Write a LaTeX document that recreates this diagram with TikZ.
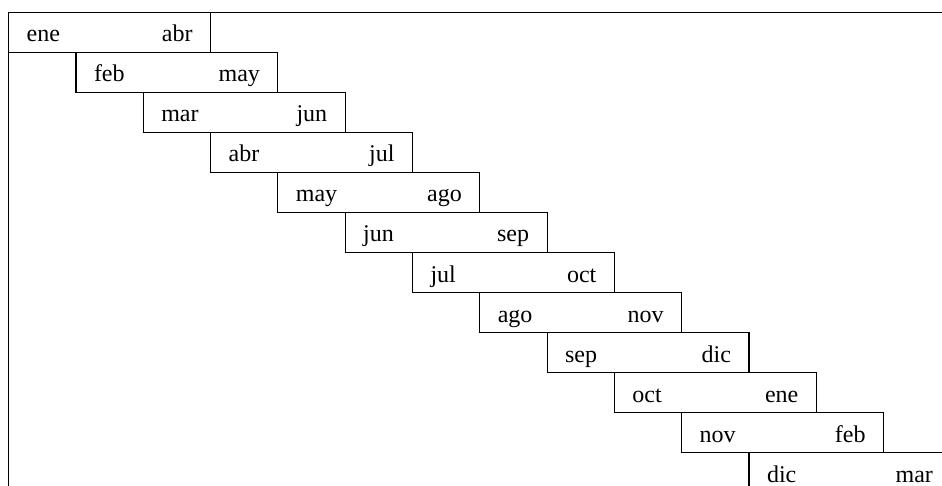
\documentclass[tikz,border=0pt]{standalone}
\usepackage{fontspec}
\setmainfont{Liberation Serif}
\usetikzlibrary{positioning}
\begin{document}
\begin{tikzpicture}[x=1pt, y=1pt, line width=0.55pt, node distance=0pt and -67.3pt,
	every node/.style={rectangle, draw, outer sep=0pt, inner xsep=9pt, inner ysep=0pt, text width=82.95pt, text height=14.725pt, text depth=5.3pt, font=\fontsize{12}{14}\selectfont},
	span/.style={below right=of #1}]
	\useasboundingbox (0,0) rectangle (471,-243);
	\clip (0,0) rectangle (471,-243);

	\node (ene) [anchor=north west] at (4.35,-6.15) {ene\hfill abr};
	\node (feb) [span=ene] {feb\hfill may};
	\node (mar) [span=feb] {mar\hfill jun};
	\node (abr) [span=mar] {abr\hfill jul};
	\node (may) [span=abr] {may\hfill ago};
	\node (jun) [span=may] {jun\hfill sep};
	\node (jul) [span=jun] {jul\hfill oct};
	\node (ago) [span=jul] {ago\hfill nov};
	\node (sep) [span=ago] {sep\hfill dic};
	\node (oct) [span=sep] {oct\hfill ene};
	\node (nov) [span=oct] {nov\hfill feb};
	\node (dic) [span=nov] {dic\hfill mar};

	% frame of the table
	\coordinate (topright) at (471,-6.15);
	\coordinate (botleft) at (4.35,-243);
	\draw (botleft) |- (topright);

	\end{tikzpicture}
\end{document}
